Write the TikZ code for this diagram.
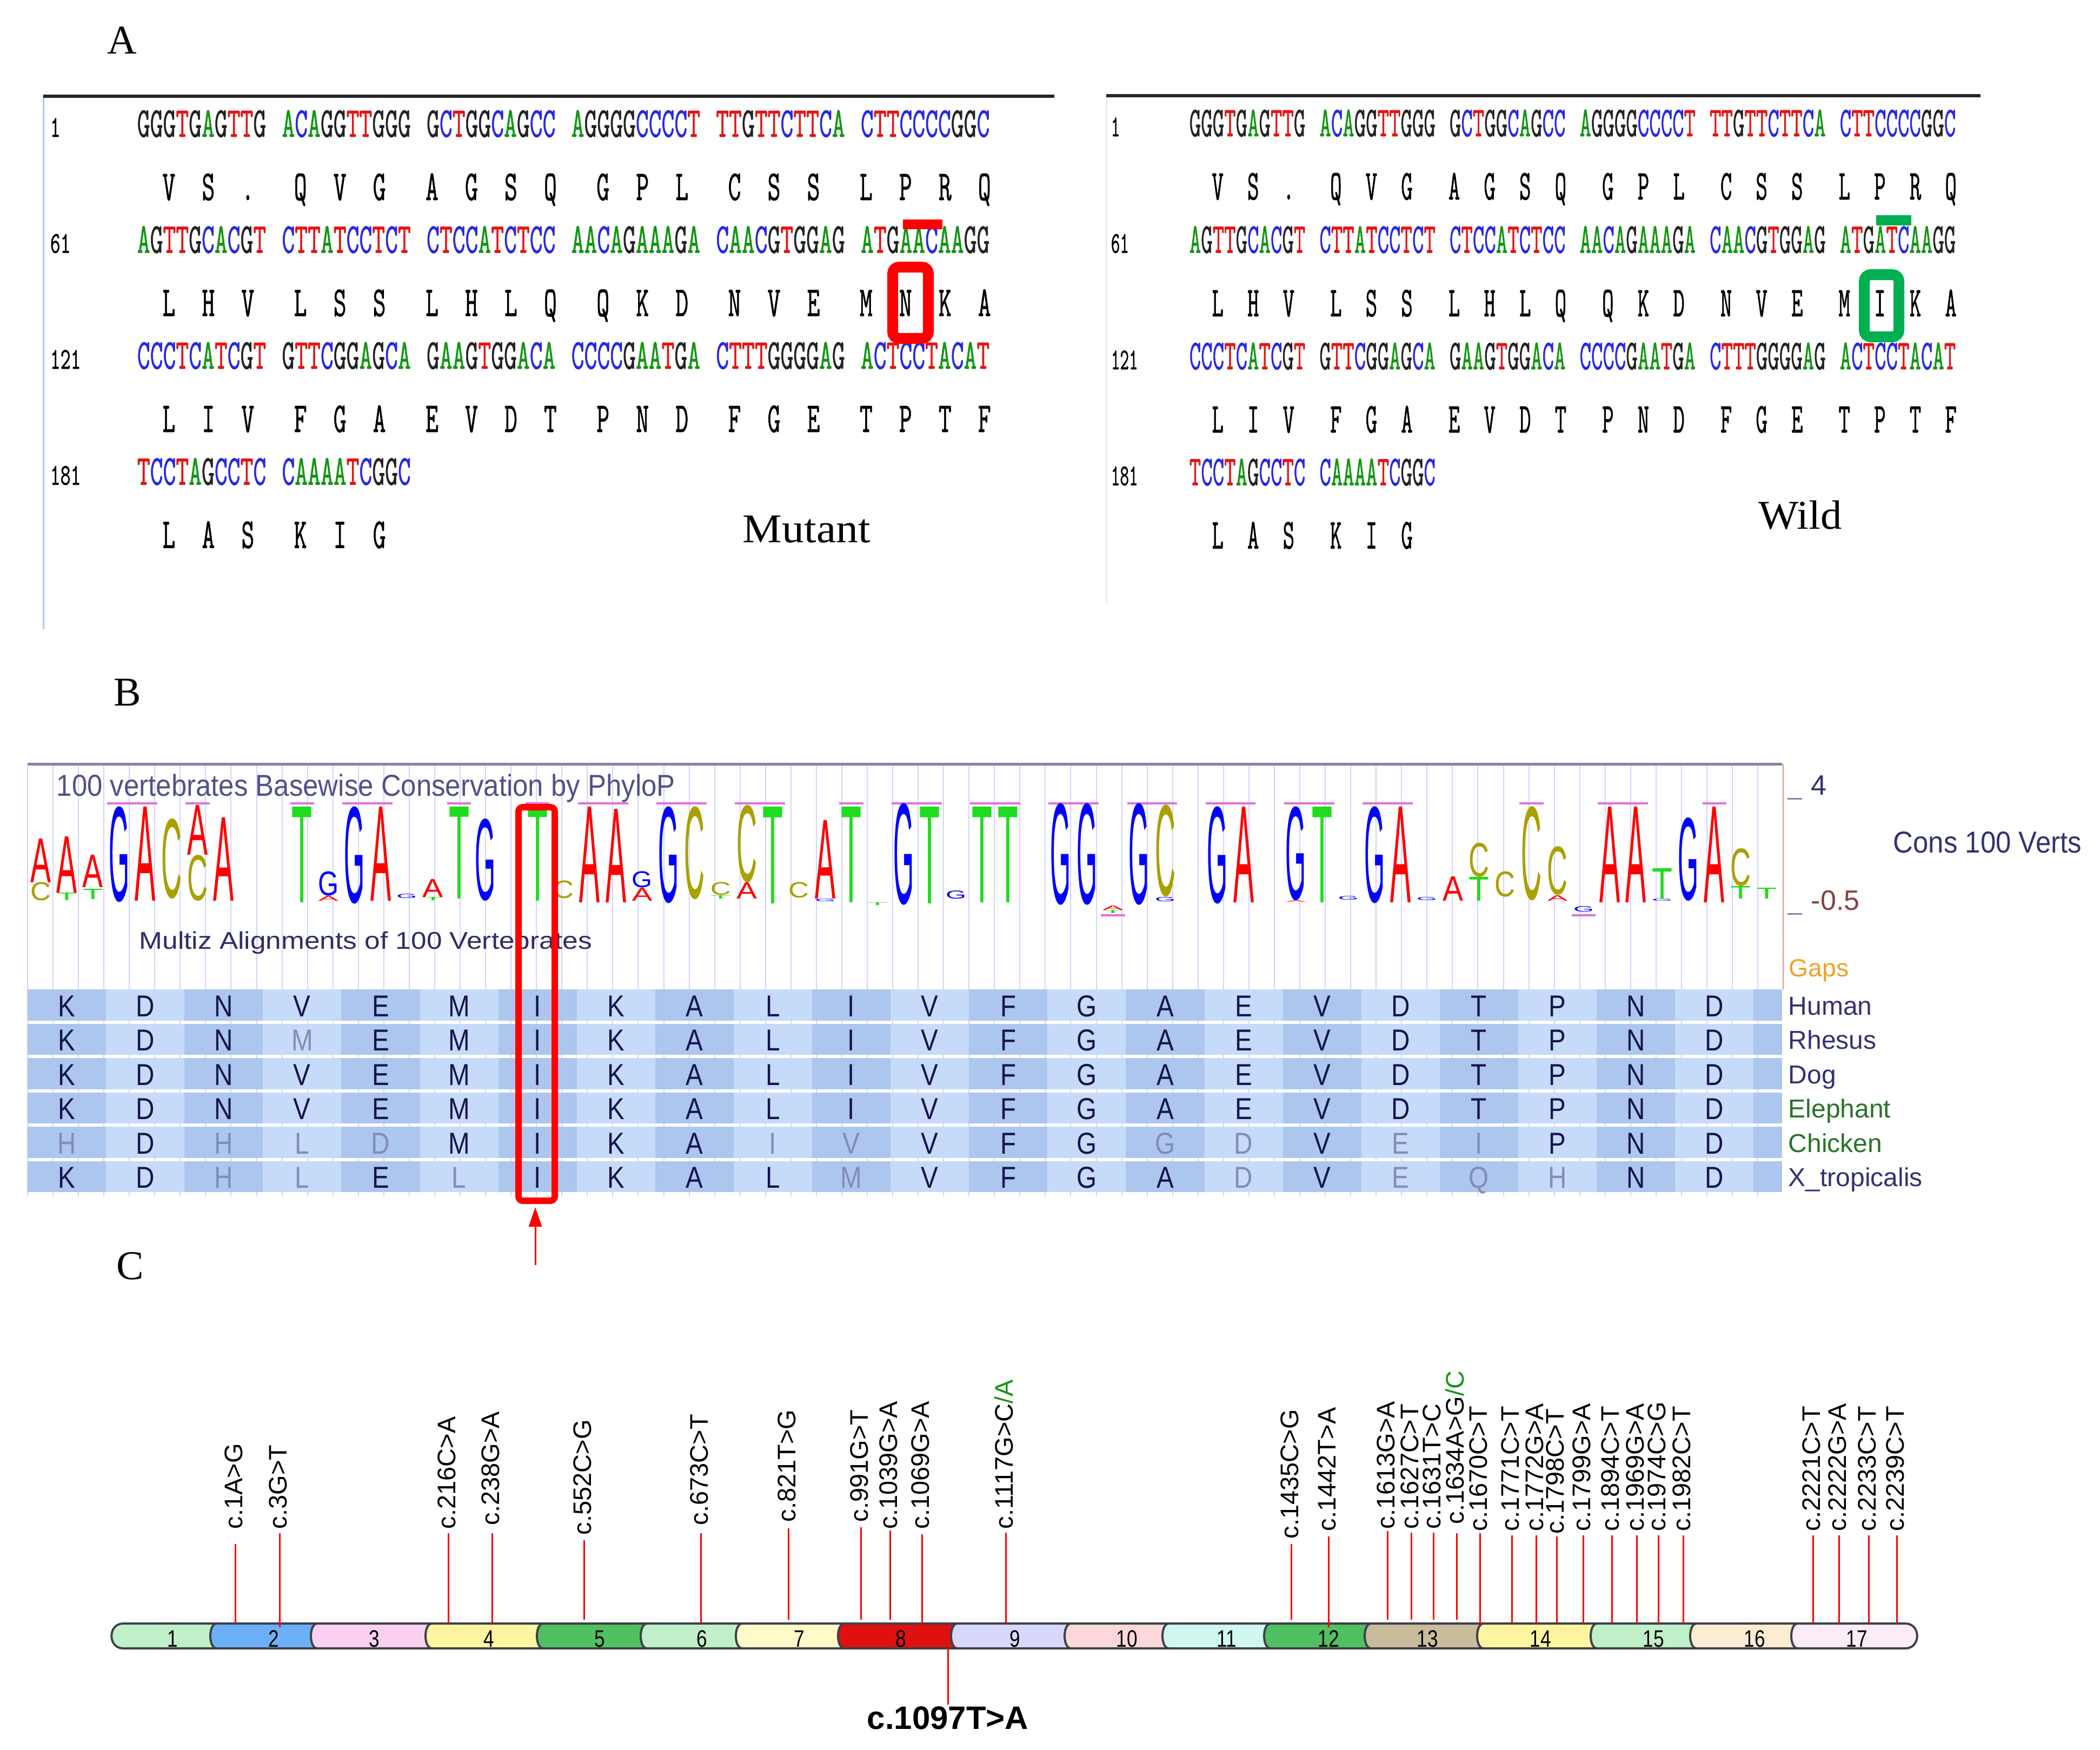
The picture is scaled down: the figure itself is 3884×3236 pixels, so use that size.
\documentclass[tikz,border=0pt]{standalone}
\usepackage{fontspec}
\usepackage{graphicx}
\usetikzlibrary{arrows.meta}
\newfontfamily\lsans{Liberation Sans}
\newfontfamily\lserif{Liberation Serif}
\newfontfamily\seqf[FakeBold=1.2]{Latin Modern Mono}
\newdimen\px \px=0.25pt
\definecolor{ntA}{RGB}{20,150,20}
\definecolor{ntC}{RGB}{40,40,230}
\definecolor{ntT}{RGB}{230,20,20}
\definecolor{ntG}{RGB}{35,35,35}
\definecolor{lgA}{RGB}{255,0,0}
\definecolor{lgC}{RGB}{170,160,0}
\definecolor{lgG}{RGB}{0,0,255}
\definecolor{lgT}{RGB}{30,220,30}
\definecolor{pinkbar}{RGB}{225,110,225}
\definecolor{gridc}{RGB}{212,212,250}
\definecolor{navy}{RGB}{50,50,115}
\definecolor{aaDark}{RGB}{20,20,80}
\definecolor{aaGray}{RGB}{130,140,185}
\definecolor{blkD}{RGB}{172,198,238}
\definecolor{blkL}{RGB}{198,218,250}
\definecolor{spgreen}{RGB}{40,115,40}
\definecolor{gapsor}{RGB}{240,160,40}
\definecolor{maroonc}{RGB}{135,65,65}
\definecolor{exline}{RGB}{60,66,74}
\definecolor{wgreen}{RGB}{0,176,80}
\definecolor{mgreen}{RGB}{20,150,20}
\definecolor{topline}{RGB}{130,130,170}
\definecolor{lblue}{RGB}{168,200,240}
\definecolor{faint}{RGB}{230,236,246}
\definecolor{redline}{RGB}{240,140,140}
\definecolor{ex1}{RGB}{192,240,200}
\definecolor{ex2}{RGB}{110,176,248}
\definecolor{ex3}{RGB}{250,208,240}
\definecolor{ex4}{RGB}{255,245,160}
\definecolor{ex5}{RGB}{80,192,96}
\definecolor{ex7}{RGB}{255,250,200}
\definecolor{ex8}{RGB}{224,16,16}
\definecolor{ex9}{RGB}{216,216,252}
\definecolor{ex10}{RGB}{252,216,216}
\definecolor{ex11}{RGB}{208,248,240}
\definecolor{ex13}{RGB}{200,188,156}
\definecolor{ex16}{RGB}{252,236,212}
\definecolor{ex17}{RGB}{252,236,248}
% nucleotide colouring
\def\ntc#1{\ifx#1A\textcolor{ntA}{A}\else\ifx#1C\textcolor{ntC}{C}\else\ifx#1T\textcolor{ntT}{T}\else\textcolor{ntG}{#1}\fi\fi\fi}
\def\seqc#1{\seqci#1\relax}
\def\seqci#1{\ifx#1\relax\else\ntc#1\expandafter\seqci\fi}
\def\seqcx#1{\expandafter\seqc\expandafter{#1}}
\newcommand\dnarow[6]{%
  \foreach \s [count=\g from 0] in {#6}{%
    \node[seqn, anchor=base west] (#1-\g) at ({#2+#3*11*\g}, #5) {\scalebox{#4}[1]{\seqcx\s}};
  }}
\newcommand\aarow[6]{%
  \foreach \a [count=\j from 0] in {#6}{%
    \pgfmathtruncatemacro\cc{2+3*\j}%
    \pgfmathtruncatemacro\dd{\cc+floor(\cc/10)}%
    \node[seqn, anchor=base] (#1-\j) at ({#2+#3*\dd-1.5}, #5) {\scalebox{#4}[1]{\a}};
  }}
\newcommand\LL[4]{\node[inner sep=0, anchor=south, text=lg#2] (lg-#1-#2) at ({75.2+48.37*#1},#3) {\resizebox*{38\px}{#4\px}{\lsans #2}};}
\newcommand\aatab[2]{%
  \foreach \f/\a [count=\j from 0] in {#2}{%
    \if\f g\def\tc{aaGray}\else\def\tc{aaDark}\fi
    \node[tabl, text=\tc] (tb-#1-\j) at ({51+145.1*(\j+0.5)}, {1880+63.5*#1}) {\scalebox{0.85}[1]{\a}};
  }}
\newcommand\mut[6]{%
  \node[mutl] (#1) at (#2-3,#3) {#6};
  \coordinate (#1-t) at (#2,#4);
  \coordinate (#1-b) at (#2,#5);
  \draw[mutline] (#1-t) -- (#1-b);}
\newcommand\exon[4]{%
  \filldraw[exonst, fill=#4] (#3+6,3003) -- (#2+6,3003) .. controls (#2-10,3003) and (#2-10,3049) .. (#2+6,3049) -- (#3+6,3049);}
\begin{document}
\begin{tikzpicture}[x=0.25pt,y=-0.25pt,
  seqn/.style={inner sep=0, font=\fontsize{19.65pt}{20pt}\selectfont\seqf},
  numn/.style={inner sep=0, anchor=base west, font=\fontsize{13.9pt}{14pt}\selectfont\seqf},
  plbl/.style={inner sep=0, anchor=base west, font=\fontsize{18.9pt}{20pt}\selectfont\lserif},
  gridl/.style={line width=0.5pt, gridc},
  tabl/.style={inner sep=0, anchor=base, font=\fontsize{14pt}{14pt}\selectfont\lsans},
  spl/.style={inner sep=0, anchor=base west, font=\fontsize{12pt}{12pt}\selectfont\lsans},
  mutl/.style={inner sep=0, rotate=90, anchor=west, font=\fontsize{11.75pt}{12pt}\selectfont\lsans},
  mutline/.style={line width=0.75pt, red},
  exonst/.style={draw=exline, line width=1pt},
  exnum/.style={inner sep=0, anchor=base, font=\fontsize{11pt}{11pt}\selectfont\lsans}]
\useasboundingbox (0,0) rectangle (3884,3236);
\fill[white] (0,0) rectangle (3884,3236);

%================ PANEL A =================
\node[plbl] (labA) at (198,99) {A};
% left (mutant)
\draw[line width=0.75pt, lblue] (80,178) -- (80,1164);
\draw[line width=1.5pt, black!85] (80,178) -- (1950,178);
\node[numn] (Ln1) at (92,253) {\scalebox{0.66}[1]{1}};
\node[numn] (Ln2) at (92,467.5) {\scalebox{0.66}[1]{61}};
\node[numn] (Ln3) at (92,682) {\scalebox{0.66}[1]{121}};
\node[numn] (Ln4) at (92,896.5) {\scalebox{0.66}[1]{181}};
\dnarow{L1}{253}{24.33}{0.589}{253}{GGGTGAGTTG,ACAGGTTGGG,GCTGGCAGCC,AGGGGCCCCT,TTGTTCTTCA,CTTCCCCGGC}
\aarow{La1}{265.2}{24.33}{0.589}{370}{V,S,.,Q,V,G,A,G,S,Q,G,P,L,C,S,S,L,P,R,Q}
\dnarow{L2}{253}{24.33}{0.589}{467.5}{AGTTGCACGT,CTTATCCTCT,CTCCATCTCC,AACAGAAAGA,CAACGTGGAG,ATGAACAAGG}
\aarow{La2}{265.2}{24.33}{0.589}{584.5}{L,H,V,L,S,S,L,H,L,Q,Q,K,D,N,V,E,M,N,K,A}
\dnarow{L3}{253}{24.33}{0.589}{682}{CCCTCATCGT,GTTCGGAGCA,GAAGTGGACA,CCCCGAATGA,CTTTGGGGAG,ACTCCTACAT}
\aarow{La3}{265.2}{24.33}{0.589}{799}{L,I,V,F,G,A,E,V,D,T,P,N,D,F,G,E,T,P,T,F}
\dnarow{L4}{253}{24.33}{0.589}{896.5}{TCCTAGCCTC,CAAAATCGGC}
\aarow{La4}{265.2}{24.33}{0.589}{1013.5}{L,A,S,K,I,G}
\fill[red] (1670,406) rectangle (1743,424);
\draw[red, line width=5pt, rounded corners=3pt] (1651,494) rectangle (1717,626);
\node[inner sep=0, anchor=base west] (mutant) at (1373,1003) {\resizebox{236\px}{\height}{\fontsize{18.9pt}{20pt}\selectfont\lserif Mutant}};
% right (wild)
\draw[line width=0.75pt, faint] (2046,177) -- (2046,1115);
\draw[line width=1.5pt, black!85] (2046,177) -- (3663,177);
\node[numn] (Rn1) at (2054,252) {\scalebox{0.58}[1]{1}};
\node[numn] (Rn2) at (2054,467.5) {\scalebox{0.58}[1]{61}};
\node[numn] (Rn3) at (2054,683) {\scalebox{0.58}[1]{121}};
\node[numn] (Rn4) at (2054,897.5) {\scalebox{0.58}[1]{181}};
\dnarow{R1}{2199}{21.87}{0.53}{252}{GGGTGAGTTG,ACAGGTTGGG,GCTGGCAGCC,AGGGGCCCCT,TTGTTCTTCA,CTTCCCCGGC}
\aarow{Ra1}{2209.9}{21.87}{0.53}{369}{V,S,.,Q,V,G,A,G,S,Q,G,P,L,C,S,S,L,P,R,Q}
\dnarow{R2}{2199}{21.87}{0.53}{467.5}{AGTTGCACGT,CTTATCCTCT,CTCCATCTCC,AACAGAAAGA,CAACGTGGAG,ATGATCAAGG}
\aarow{Ra2}{2209.9}{21.87}{0.53}{585}{L,H,V,L,S,S,L,H,L,Q,Q,K,D,N,V,E,M,I,K,A}
\dnarow{R3}{2199}{21.87}{0.53}{683}{CCCTCATCGT,GTTCGGAGCA,GAAGTGGACA,CCCCGAATGA,CTTTGGGGAG,ACTCCTACAT}
\aarow{Ra3}{2209.9}{21.87}{0.53}{800}{L,I,V,F,G,A,E,V,D,T,P,N,D,F,G,E,T,P,T,F}
\dnarow{R4}{2199}{21.87}{0.53}{897.5}{TCCTAGCCTC,CAAAATCGGC}
\aarow{Ra4}{2209.9}{21.87}{0.53}{1014.5}{L,A,S,K,I,G}
\fill[wgreen] (3470,398) rectangle (3535,417);
\draw[wgreen, line width=5pt, rounded corners=3pt] (3448,508) rectangle (3512,623);
\node[inner sep=0, anchor=base west] (wild) at (3252,978) {\resizebox{154\px}{\height}{\fontsize{18.9pt}{20pt}\selectfont\lserif Wild}};

%================ PANEL B =================
\node[plbl] (labB) at (210,1305) {B};
\foreach \k in {0,...,68} \draw[gridl] ({51+47.06*\k},1416) -- ({51+47.06*\k},2213);
\draw[line width=1.25pt, topline] (51,1413) -- (3296,1413);
\draw[line width=0.5pt, redline] (3298,1413) -- (3298,1830);
\node[inner sep=0, anchor=base west] (ttl) at (104,1472) {\resizebox{1144\px}{\height}{\fontsize{14pt}{15pt}\selectfont\lsans\color{navy!85} 100 vertebrates Basewise Conservation by PhyloP}};
\node[inner sep=0, anchor=base west] (multiz) at (257,1755) {\resizebox{837\px}{\height}{\fontsize{11.2pt}{12pt}\selectfont\lsans\color{navy!90!black} Multiz Alignments of 100 Vertebrates}};
% conservation bars
\foreach \a/\b in {3/4,6/6,10/10,12/13,16/16,19/19,21/22,24/25,27/28,31/31,33/34,36/37,39/40,42/43,45/46,48/49,51/52,57/57,60/61,64/64}
  \fill[pinkbar] ({51+48.37*\a+2},1484) rectangle ({51+48.37*(\b+1)-2},1488);
\foreach \a in {41,59}
  \fill[pinkbar] ({51+48.37*\a+2},1691) rectangle ({51+48.37*(\a+1)-2},1695);
% logo letters
\LL{0}{A}{1633}{81}\LL{0}{C}{1667}{34}
\LL{1}{A}{1652}{104}\LL{1}{T}{1666}{14}
\LL{2}{A}{1642}{60}\LL{2}{T}{1664}{19}
\LL{3}{G}{1670}{177}
\LL{4}{A}{1667}{174}
\LL{5}{C}{1663}{148}
\LL{6}{A}{1582}{92}\LL{6}{C}{1667}{85}
\LL{7}{A}{1667}{154}
\LL{10}{T}{1670}{177}
\LL{11}{G}{1658}{45}\LL{11}{A}{1667}{9}
\LL{12}{G}{1673}{180}
\LL{13}{A}{1667}{174}
\LL{14}{G}{1662}{8}
\LL{15}{A}{1660}{33}\LL{15}{T}{1666}{6}
\LL{16}{T}{1663}{170}
\LL{17}{G}{1667}{152}
\LL{19}{T}{1667}{174}
\LL{20}{C}{1663}{33}
\LL{21}{A}{1670}{177}
\LL{22}{A}{1670}{173}
\LL{23}{G}{1643}{30}\LL{23}{A}{1667}{24}
\LL{24}{G}{1672}{179}
\LL{25}{C}{1665}{172}
\LL{26}{C}{1657}{24}\LL{26}{T}{1663}{6}
\LL{27}{C}{1633}{143}\LL{27}{A}{1663}{30}
\LL{28}{T}{1672}{179}
\LL{29}{C}{1662}{29}
\LL{30}{A}{1663}{145}\LL{30}{G}{1668}{5}
\LL{31}{T}{1670}{177}
\LL{32}{T}{1675}{5}
\LL{33}{G}{1675}{188}
\LL{34}{T}{1672}{179}
\LL{35}{G}{1663}{15}
\LL{36}{T}{1670}{177}
\LL{37}{T}{1670}{177}
\LL{39}{G}{1675}{188}
\LL{40}{G}{1675}{188}
\LL{41}{A}{1684}{8}\LL{41}{T}{1690}{6}
\LL{42}{G}{1675}{188}
\LL{43}{C}{1660}{170}\LL{43}{G}{1668}{8}
\LL{45}{G}{1673}{180}
\LL{46}{A}{1670}{177}
\LL{48}{G}{1667}{174}\LL{48}{A}{1670}{3}
\LL{49}{T}{1670}{177}
\LL{50}{G}{1665}{7}
\LL{51}{G}{1672}{179}
\LL{52}{A}{1670}{177}
\LL{53}{G}{1666}{6}
\LL{54}{A}{1667}{45}
\LL{55}{C}{1623}{63}\LL{55}{T}{1667}{44}
\LL{56}{C}{1660}{47}
\LL{57}{C}{1667}{174}
\LL{58}{C}{1657}{90}\LL{58}{A}{1667}{10}
\LL{59}{G}{1687}{10}
\LL{60}{A}{1670}{177}
\LL{61}{A}{1670}{177}
\LL{62}{T}{1663}{56}\LL{62}{G}{1667}{4}
\LL{63}{G}{1667}{154}
\LL{64}{A}{1670}{177}
\LL{65}{C}{1640}{70}\LL{65}{T}{1663}{23}
\LL{66}{T}{1663}{20}
% right side labels of the tracks
\draw[line width=0.75pt, navy!60] (3306,1477) -- (3333,1477);
\draw[line width=0.75pt, navy!60] (3306,1690) -- (3333,1690);
\node[inner sep=0, anchor=base west, text=navy, font=\fontsize{13pt}{13pt}\selectfont\lsans] (s4) at (3349,1470) {4};
\node[inner sep=0, anchor=base west, text=maroonc, font=\fontsize{13pt}{13pt}\selectfont\lsans] (s05) at (3349,1683) {-0.5};
\node[inner sep=0, anchor=base west] (cons) at (3501,1577) {\resizebox{348\px}{\height}{\fontsize{14pt}{14pt}\selectfont\lsans\color{navy} Cons 100 Verts}};
\node[inner sep=0, anchor=base west] (gaps) at (3308,1806) {\resizebox{111\px}{\height}{\fontsize{11.5pt}{12pt}\selectfont\lsans\color{gapsor} Gaps}};
% alignment table
\foreach \r in {0,...,5}{\foreach \j in {0,...,22}{%
  \pgfmathtruncatemacro\pp{mod(\j,2)}%
  \ifnum\pp=0 \def\bc{blkD}\else\def\bc{blkL}\fi
  \pgfmathsetmacro\xa{51+145.1*\j}%
  \pgfmathsetmacro\xb{min(51+145.1*(\j+1),3296)}%
  \fill[\bc] (\xa,{1830+63.5*\r}) rectangle (\xb,{1887.5+63.5*\r});
}}
\aatab{0}{n/K,n/D,n/N,n/V,n/E,n/M,n/I,n/K,n/A,n/L,n/I,n/V,n/F,n/G,n/A,n/E,n/V,n/D,n/T,n/P,n/N,n/D}
\aatab{1}{n/K,n/D,n/N,g/M,n/E,n/M,n/I,n/K,n/A,n/L,n/I,n/V,n/F,n/G,n/A,n/E,n/V,n/D,n/T,n/P,n/N,n/D}
\aatab{2}{n/K,n/D,n/N,n/V,n/E,n/M,n/I,n/K,n/A,n/L,n/I,n/V,n/F,n/G,n/A,n/E,n/V,n/D,n/T,n/P,n/N,n/D}
\aatab{3}{n/K,n/D,n/N,n/V,n/E,n/M,n/I,n/K,n/A,n/L,n/I,n/V,n/F,n/G,n/A,n/E,n/V,n/D,n/T,n/P,n/N,n/D}
\aatab{4}{g/H,n/D,g/H,g/L,g/D,n/M,n/I,n/K,n/A,g/I,g/V,n/V,n/F,n/G,g/G,g/D,n/V,g/E,g/I,n/P,n/N,n/D}
\aatab{5}{n/K,n/D,g/H,g/L,n/E,g/L,n/I,n/K,n/A,n/L,g/M,n/V,n/F,n/G,n/A,g/D,n/V,g/E,g/Q,g/H,n/N,n/D}
\node[spl, text=navy] (spH) at (3307,1877) {Human};
\node[spl, text=navy] (spR) at (3307,1940.5) {Rhesus};
\node[spl, text=navy] (spD) at (3307,2004) {Dog};
\node[spl, text=spgreen] (spE) at (3307,2067.5) {Elephant};
\node[spl, text=spgreen] (spC) at (3307,2131) {Chicken};
\node[spl, text=navy] (spX) at (3307,2194.5) {X\_tropicalis};
% highlight of the mutated column
\draw[red, line width=3pt, rounded corners=2pt] (959,1493) rectangle (1026,2221);
\coordinate (arrT) at (990,2340);
\coordinate (arrH) at (990,2233);
\draw[red, line width=0.75pt, -{Triangle[width=6pt,length=9pt]}] (arrT) -- (arrH);

%================ PANEL C =================
\node[plbl] (labC) at (215,2366) {C};
\filldraw[exonst, fill=ex1] (401,3003) -- (228,3003) .. controls (199,3003) and (199,3049) .. (228,3049) -- (401,3049);
\exon{2}{395}{581}{ex2}
\exon{3}{581}{793}{ex3}
\exon{4}{793}{999}{ex4}
\exon{5}{999}{1191}{ex5}
\exon{6}{1191}{1367}{ex1}
\exon{7}{1367}{1556}{ex7}
\exon{8}{1556}{1765}{ex8}
\exon{9}{1765}{1975}{ex9}
\exon{10}{1975}{2156}{ex10}
\exon{11}{2156}{2344}{ex11}
\exon{12}{2344}{2530}{ex5}
\exon{13}{2530}{2738}{ex13}
\exon{14}{2738}{2948}{ex4}
\exon{15}{2948}{3132}{ex1}
\exon{16}{3132}{3319}{ex16}
\filldraw[exonst, fill=ex17] (3524,3003) -- (3325,3003) .. controls (3309,3003) and (3309,3049) .. (3325,3049) -- (3524,3049) .. controls (3553,3049) and (3553,3003) .. (3524,3003);
\foreach \n/\x in {1/319,2/506,3/692,4/904,5/1109,6/1298,7/1478,8/1666,9/1877,10/2084,11/2269,12/2457,13/2640,14/2849,15/3058,16/3245,17/3434}
  \node[exnum] (en\n) at (\x,3046) {\scalebox{0.8}[1]{\n}};
\mut{m1}{435}{2829}{2856}{3003}{c.1A>G}
\mut{m2}{517}{2829}{2836}{3010}{c.3G>T}
\mut{m3}{829}{2829}{2836}{3003}{c.216C>A}
\mut{m4}{910}{2822}{2836}{3003}{c.238G>A}
\mut{m5}{1080}{2840}{2849}{2996}{c.552C>G}
\mut{m6}{1296}{2822}{2836}{3003}{c.673C>T}
\mut{m7}{1458}{2816}{2827}{2996}{c.821T>G}
\mut{m8}{1592}{2816}{2825}{2996}{c.991G>T}
\mut{m9}{1646}{2829}{2831}{2996}{c.1039G>A}
\mut{m10}{1705}{2829}{2838}{3005}{c.1069G>A}
\mut{m11}{1860}{2829}{2835}{3003}{c.1117G>C\textcolor{mgreen}{/A}}
\mut{m12}{2388}{2847}{2856}{2996}{c.1435C>G}
\mut{m13}{2457}{2833}{2842}{3010}{c.1442T>A}
\mut{m14}{2566}{2829}{2832}{2996}{c.1613G>A}
\mut{m15}{2610}{2829}{2835}{2996}{c.1627C>T}
\mut{m16}{2651}{2829}{2835}{2996}{c.1631T>C}
\mut{m17}{2694}{2820}{2836}{2996}{c.1634A>G\textcolor{mgreen}{/C}}
\mut{m18}{2737}{2833}{2836}{3005}{c.1670C>T}
\mut{m19}{2796}{2833}{2840}{3003}{c.1771C>T}
\mut{m20}{2841}{2833}{2840}{3003}{c.1772G>A}
\mut{m21}{2879}{2838}{2842}{3003}{c.1798C>T}
\mut{m22}{2928}{2833}{2840}{3003}{c.1799G>A}
\mut{m23}{2981}{2833}{2840}{3003}{c.1894C>T}
\mut{m24}{3027}{2833}{2840}{3003}{c.1969G>A}
\mut{m25}{3067}{2833}{2840}{3003}{c.1974C>G}
\mut{m26}{3113}{2833}{2840}{3003}{c.1982C>T}
\mut{m27}{3353}{2833}{2840}{3003}{c.2221C>T}
\mut{m28}{3401}{2833}{2840}{3003}{c.2222G>A}
\mut{m29}{3456}{2833}{2840}{3003}{c.2233C>T}
\mut{m30}{3508}{2833}{2840}{3003}{c.2239C>T}
\coordinate (c1097a) at (1753,3049);
\coordinate (c1097b) at (1753,3153);
\draw[mutline] (c1097a) -- (c1097b);
\node[inner sep=0, anchor=base, font=\fontsize{15pt}{15pt}\selectfont\lsans\bfseries] (c1097) at (1753,3198) {c.1097T>A};
\end{tikzpicture}
\end{document}
